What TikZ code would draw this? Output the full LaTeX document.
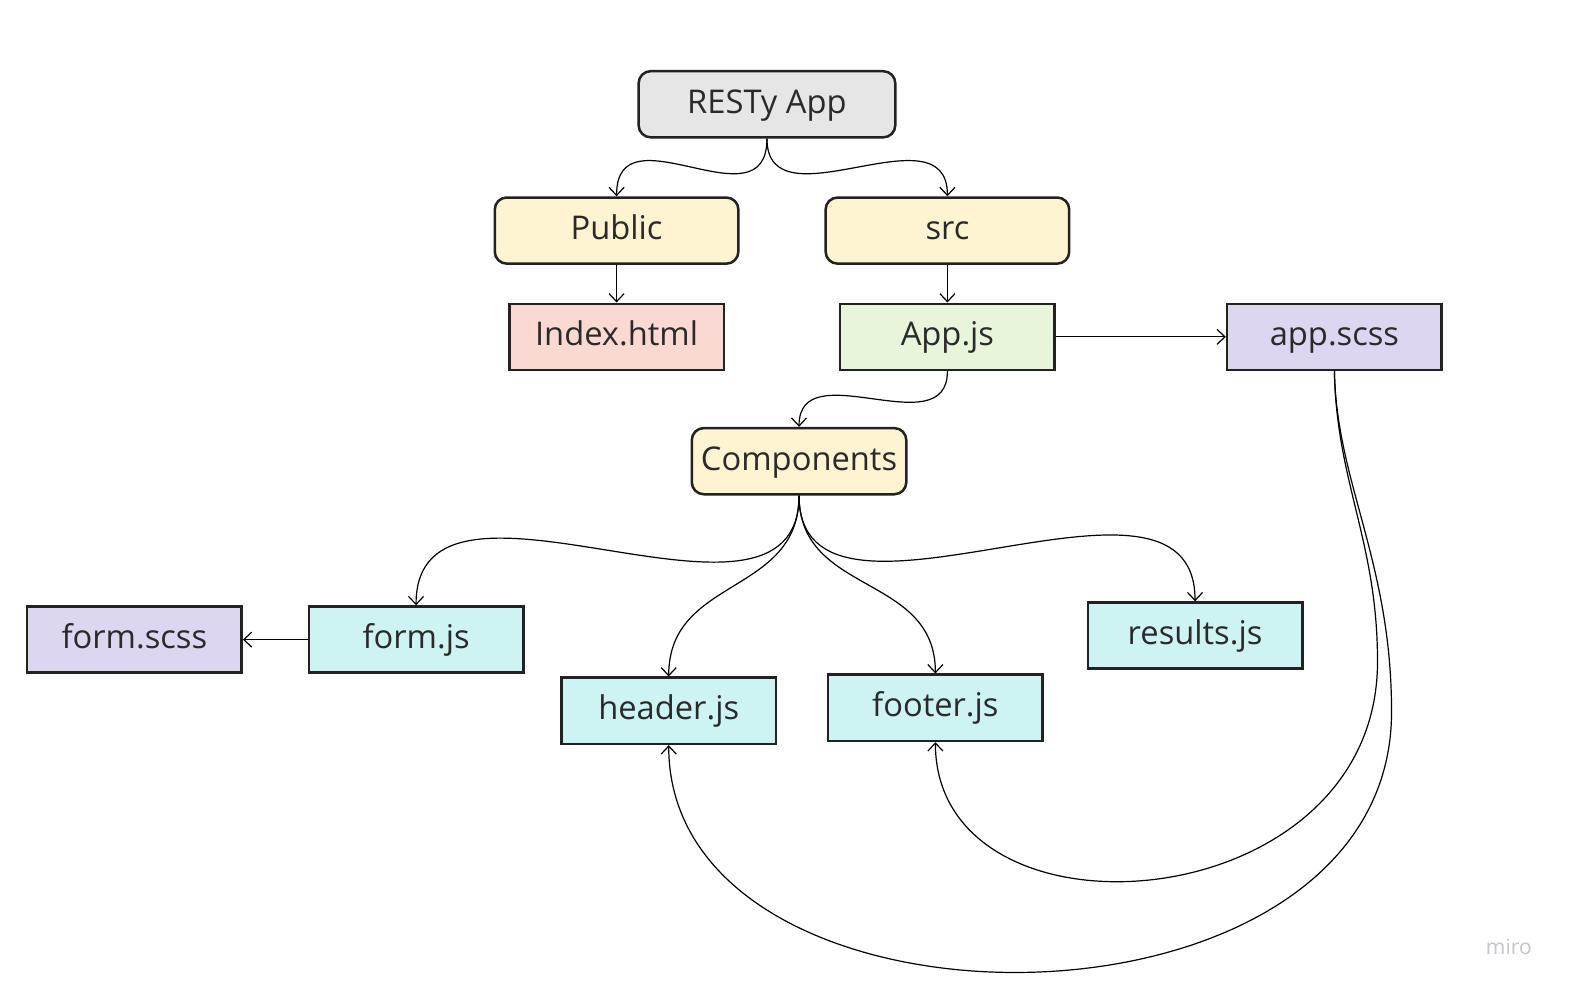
\documentclass[tikz,border=0pt]{standalone}
\usepackage{fontspec}
\setmainfont{Open Sans}
\usetikzlibrary{arrows.meta}
\definecolor{bordc}{HTML}{222222}
\definecolor{txtc}{HTML}{2A2A2A}
\definecolor{grayf}{HTML}{E6E6E6}
\definecolor{yelf}{HTML}{FFF4D1}
\definecolor{pinkf}{HTML}{FBD9D3}
\definecolor{greenf}{HTML}{E7F5DB}
\definecolor{purpf}{HTML}{DED5F0}
\definecolor{cyanf}{HTML}{CDF3F3}
\definecolor{logoc}{HTML}{C4C4CE}
\tikzset{
  box/.style={draw=bordc, line width=1.25pt, text=txtc, minimum height=33pt,
     minimum width=107pt, inner sep=1pt, text height=12pt, text depth=3pt,
     font=\fontsize{16.3}{19}\selectfont},
  rbox/.style={box, rounded corners=6pt},
  conn/.style={draw=black, line width=0.6pt, -{Straight Barb[length=4pt,width=7.5pt]}},
}
\begin{document}
\begin{tikzpicture}[x=0.5pt,y=-0.5pt]
\useasboundingbox (0,0) rectangle (1568,990.5);
% nodes
\node[rbox, fill=grayf, minimum width=128pt] (resty) at (765,104) {RESTy App};
\node[rbox, fill=yelf, minimum width=121.5pt] (public) at (615,230) {Public};
\node[rbox, fill=yelf, minimum width=121.5pt] (src) at (945,230) {src};
\node[box, fill=pinkf] (index) at (615,336) {Index.html};
\node[box, fill=greenf] (appjs) at (945,336) {App.js};
\node[box, fill=purpf] (appscss) at (1331,336) {app.scss};
\node[rbox, fill=yelf] (comp) at (797,460) {Components};
\node[box, fill=purpf] (formscss) at (134,638) {form.scss};
\node[box, fill=cyanf] (formjs) at (415,638) {form.js};
\node[box, fill=cyanf] (header) at (667,709) {header.js};
\node[box, fill=cyanf] (footer) at (933,706) {footer.js};
\node[box, fill=cyanf] (results) at (1192,634) {results.js};
\node[text=logoc, font=\fontsize{10.5}{12}\selectfont] (logo) at (1505,944) {miro};
% connectors
\draw[conn] (resty.south) .. controls +(0,90) and +(0,-90) .. (public.north);
\draw[conn] (resty.south) .. controls +(0,90) and +(0,-90) .. (src.north);
\draw[conn] (public.south) -- (index.north);
\draw[conn] (src.south) -- (appjs.north);
\draw[conn] (appjs.east) -- (appscss.west);
\draw[conn] (appjs.south) .. controls +(0,75) and +(0,-75) .. (comp.north);
\draw[conn] (comp.south) .. controls +(0,170) and +(0,-170) .. (formjs.north);
\draw[conn] (comp.south) .. controls +(0,170) and +(0,-170) .. (results.north);
\draw[conn] (comp.south) .. controls +(0,100) and +(0,-100) .. (header.north);
\draw[conn] (comp.south) .. controls +(0,100) and +(0,-100) .. (footer.north);
\draw[conn] (formjs.west) -- (formscss.east);
\coordinate (fmid) at (1374,660);
\coordinate (hmid) at (1388,710);
\draw[conn] (appscss.south) .. controls +(2,111) and +(0,-120) .. (fmid)
   .. controls +(0,260) and +(0,211) .. (footer.south);
\draw[conn] (appscss.south) .. controls +(2,111) and +(0,-150) .. (hmid)
   .. controls +(0,340) and +(0,308) .. (header.south);
\end{tikzpicture}
\end{document}
